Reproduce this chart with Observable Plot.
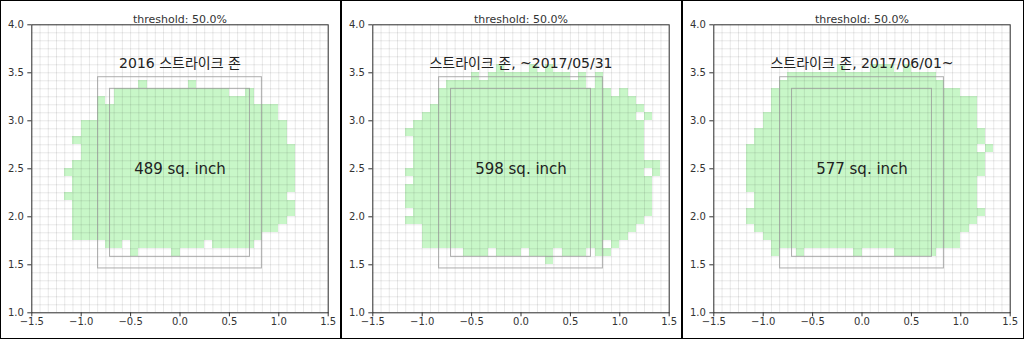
<!DOCTYPE html>
<html><head><meta charset="utf-8">
<script src="https://cdn.jsdelivr.net/npm/d3@7"></script>
<script src="https://cdn.jsdelivr.net/npm/@observablehq/plot@0.6"></script>
<style>
body{margin:0;background:#fff;}
#wrap{display:flex;width:1024px;height:339px;overflow:hidden;}
.panel{box-sizing:border-box;border:1px solid #000;height:339px;background:#fff;}
.panel svg{display:block;}
</style></head><body><div id="wrap"></div>
<script>
// ---- data ----
const panelTitles = ["2016 스트라이크 존", "스트라이크 존, ~2017/05/31", "스트라이크 존, 2017/06/01~"];
const areaLabels = ["489 sq. inch", "598 sq. inch", "577 sq. inch"];
const thresholdLabel = "threshold: 50.0%";
const xTicks = [-1.5, -1.0, -0.5, 0.0, 0.5, 1.0, 1.5];
const yTicks = [1.0, 1.5, 2.0, 2.5, 3.0, 3.5, 4.0];
const innerZoneX = [-0.708, 0.708];
const innerZoneY = [1.583, 3.333];
const outerZoneX = [-0.829, 0.829];
const outerZoneY = [1.462, 3.454];
// strike cells (1 inch grid): [row, start col, end col, start col, end col, ...]
const zone2016 = [
  [28, 13,13, 19,19],
  [27, 10,23, 26,26],
  [26, 8,8, 10,26],
  [25, 8,29],
  [24, 8,29],
  [23, 6,30],
  [22, 6,30],
  [21, 5,30],
  [20, 6,31],
  [19, 6,31],
  [18, 5,31],
  [17, 4,31],
  [16, 5,31],
  [15, 5,31],
  [14, 4,30],
  [13, 5,31],
  [12, 5,31],
  [11, 5,30],
  [10, 5,29],
  [9, 5,27],
  [8, 9,10, 12,20, 22,26],
  [7, 12,12, 17,17]
];
const zone2017a = [
  [30, 15,15, 19,19, 21,21],
  [29, 12,12, 14,23, 25,25, 27,27],
  [28, 9,25, 27,27],
  [27, 8,28, 30,30],
  [26, 8,31],
  [25, 7,32],
  [24, 6,31, 33,33],
  [23, 5,32],
  [22, 4,32],
  [21, 5,32],
  [20, 5,32],
  [19, 5,32],
  [18, 5,34],
  [17, 4,32, 34,34],
  [16, 5,33],
  [15, 4,33],
  [14, 4,33],
  [13, 4,33],
  [12, 5,33],
  [11, 4,32],
  [10, 6,31],
  [9, 6,30],
  [8, 6,27, 29,29],
  [7, 11,13, 15,17, 19,21, 23,25, 27,28],
  [6, 21,21]
];
const zone2017b = [
  [30, 15,15, 19,21, 23,23],
  [29, 9,26],
  [28, 8,27],
  [27, 7,29],
  [26, 7,31],
  [25, 7,31],
  [24, 6,31],
  [23, 6,31],
  [22, 5,32],
  [21, 5,32],
  [20, 4,31, 33,33],
  [19, 4,32],
  [18, 4,32],
  [17, 4,32],
  [16, 4,31],
  [15, 4,31],
  [14, 5,31],
  [13, 5,31],
  [12, 4,32],
  [11, 4,31],
  [10, 5,30],
  [9, 6,29],
  [8, 7,29],
  [7, 7,7, 10,10, 17,17, 22,26]
];
const zones = [zone2016, zone2017a, zone2017b];

// ---- build ----
const X0 = -1.5, Y0 = 1.0, CELL = 1 / 12, N = 36;
function cellsFrom(rows) {
  const out = [];
  for (const [r, ...sp] of rows)
    for (let i = 0; i < sp.length; i += 2)
      for (let c = sp[i]; c <= sp[i + 1]; c++)
        out.push({x1: X0 + c * CELL, x2: X0 + (c + 1) * CELL, y1: Y0 + r * CELL, y2: Y0 + (r + 1) * CELL});
  return out;
}
const gridX = d3.range(N + 1).map(i => X0 + i * CELL);
const gridY = d3.range(N + 1).map(i => Y0 + i * CELL);
const font = "'DejaVu Sans','Noto Sans CJK KR',sans-serif";
const widths = [341, 341, 342];
const wrap = document.getElementById("wrap");
zones.forEach((rows, k) => {
  const div = document.createElement("div");
  div.className = "panel";
  div.style.width = widths[k] + "px";
  const w = widths[k] - 2;
  const svg = Plot.plot({
    width: w, height: 337,
    marginLeft: 30.3, marginRight: w - 326.7, marginTop: 23.3, marginBottom: 25.7,
    style: {fontFamily: font, fontSize: "10px", color: "#333", background: "#fff"},
    x: {domain: [-1.5, 1.5]},
    y: {domain: [1, 4]},
    marks: [
      Plot.rect(cellsFrom(rows), {x1: "x1", x2: "x2", y1: "y1", y2: "y2", fill: "#c8f7c8", shapeRendering: "crispEdges"}),
      Plot.ruleX(gridX, {stroke: "#000", strokeOpacity: 0.09, strokeWidth: 1}),
      Plot.ruleY(gridY, {stroke: "#000", strokeOpacity: 0.09, strokeWidth: 1}),
      Plot.rect([0], {x1: () => outerZoneX[0], x2: () => outerZoneX[1], y1: () => outerZoneY[0], y2: () => outerZoneY[1], fill: "none", stroke: "#999", strokeOpacity: 0.8}),
      Plot.rect([0], {x1: () => innerZoneX[0], x2: () => innerZoneX[1], y1: () => innerZoneY[0], y2: () => innerZoneY[1], fill: "none", stroke: "#999", strokeOpacity: 0.8}),
      Plot.text([panelTitles[k]], {x: 0, y: 3.6, text: d => d, fontSize: 14, fill: "#222"}),
      Plot.text([areaLabels[k]], {x: 0, y: 2.5, text: d => d, fontSize: 15, fill: "#222"}),
      Plot.text([thresholdLabel], {frameAnchor: "top", dy: -10, text: d => d, fontSize: 11, fill: "#333"}),
      Plot.frame({stroke: "#333"}),
      Plot.axisX({ticks: xTicks, tickFormat: d3.format(".1f"), tickSize: 4, tickPadding: 1, label: null, fontSize: 10}),
      Plot.axisY({ticks: yTicks, tickFormat: d3.format(".1f"), tickSize: 4, tickPadding: 4, label: null, fontSize: 10})
    ]
  });
  div.appendChild(svg);
  wrap.appendChild(div);
});
</script></body></html>
